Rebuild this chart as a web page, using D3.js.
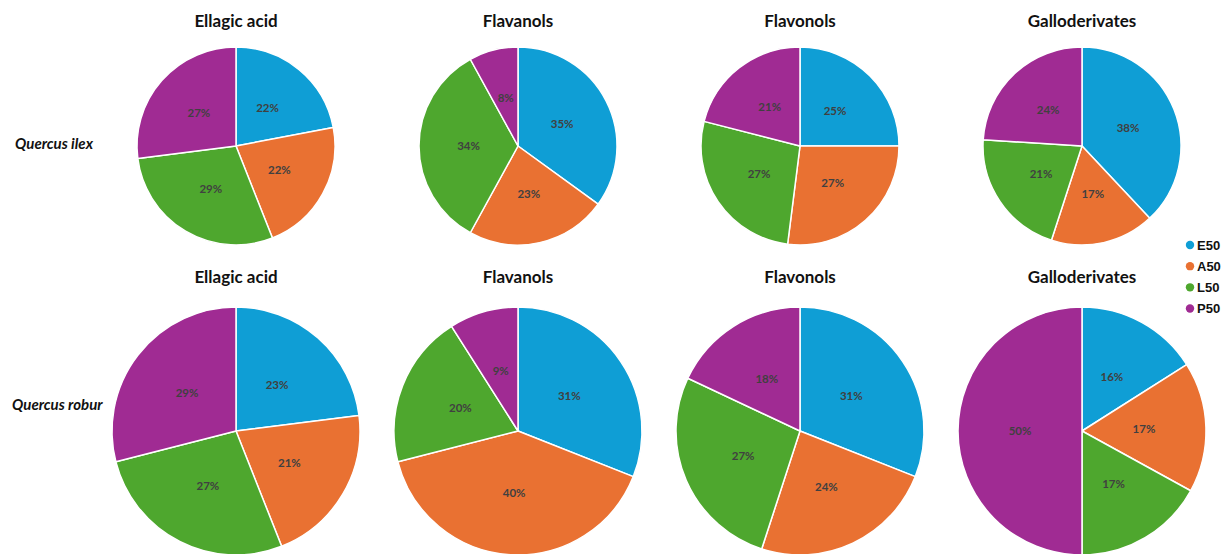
<!DOCTYPE html>
<html>
<head>
<meta charset="utf-8">
<script src="https://cdn.jsdelivr.net/npm/d3@7"></script>
<style>
  html, body { margin: 0; padding: 0; background: #ffffff; }
  svg { display: block; }
</style>
</head>
<body>
<svg id="chart" width="1225" height="554"></svg>
<script>
const categories = ["Ellagic acid", "Flavanols", "Flavonols", "Galloderivates"];
const seriesNames = ["E50", "A50", "L50", "P50"];
const species = ["Quercus ilex", "Quercus robur"];
const ilexValues = [
  [22, 22, 29, 27],
  [35, 23, 34, 8],
  [25, 27, 27, 21],
  [38, 17, 21, 24]
];
const roburValues = [
  [23, 21, 27, 29],
  [31, 40, 20, 9],
  [31, 24, 27, 18],
  [16, 17, 17, 50]
];
const seriesColors = ["#0F9ED5", "#E97132", "#4EA72E", "#A02B93"];

const svg = d3.select("#chart");

const color = d3.scaleOrdinal().domain(seriesNames).range(seriesColors);
const xCenter = d3.scalePoint().domain(categories).range([236, 1082]);
const rows = [
  { name: species[0], values: ilexValues, cy: 146, r: 99, titleY: 27, labelX: 15, labelY: 149 },
  { name: species[1], values: roburValues, cy: 431, r: 124, titleY: 283, labelX: 12, labelY: 410 }
];

const pie = d3.pie().sort(null).value(d => d.value);

rows.forEach(row => {
  svg.append("text")
    .attr("x", row.labelX)
    .attr("y", row.labelY)
    .attr("font-family", "Lato, 'Open Sans', sans-serif")
    .attr("font-style", "italic")
    .attr("font-weight", "bold")
    .attr("font-size", 15)
    .attr("fill", "#111")
    .text(row.name);

  categories.forEach((cat, ci) => {
    const cx = xCenter(cat);
    const data = seriesNames.map((s, si) => ({ series: s, value: row.values[ci][si] }));
    const total = d3.sum(data, d => d.value);
    const arcs = pie(data);
    const arc = d3.arc().innerRadius(0).outerRadius(row.r);
    const g = svg.append("g").attr("transform", `translate(${cx},${row.cy})`);

    g.selectAll("path").data(arcs).join("path")
      .attr("d", arc)
      .attr("fill", d => color(d.data.series))
      .attr("stroke", "#ffffff")
      .attr("stroke-width", 1.5)
      .attr("stroke-linejoin", "round");

    g.selectAll("text.lbl").data(arcs).join("text")
      .attr("class", "lbl")
      .attr("transform", d => `translate(${arc.centroid(d)})`)
      .attr("text-anchor", "middle")
      .attr("dy", "0.35em")
      .attr("font-family", "Lato, 'Open Sans', sans-serif")
      .attr("font-weight", "bold")
      .attr("font-size", 11.5)
      .attr("fill", "#404040")
      .text(d => Math.round(d.data.value / total * 100) + "%");

    svg.append("text")
      .attr("x", cx)
      .attr("y", row.titleY)
      .attr("text-anchor", "middle")
      .attr("font-family", "Lato, 'Open Sans', sans-serif")
      .attr("font-weight", "bold")
      .attr("font-size", 17)
      .attr("fill", "#111")
      .text(cat);
  });
});

// legend
const legendY = d3.scalePoint().domain(seriesNames).range([245, 308.5]);
const lg = svg.append("g");
seriesNames.forEach(s => {
  lg.append("circle")
    .attr("cx", 1190)
    .attr("cy", legendY(s))
    .attr("r", 4.2)
    .attr("fill", color(s));
  lg.append("text")
    .attr("x", 1197)
    .attr("y", legendY(s))
    .attr("dy", "0.35em")
    .attr("font-family", "'Liberation Sans', Arial, sans-serif")
    .attr("font-weight", "bold")
    .attr("font-size", 13)
    .attr("fill", "#111")
    .text(s);
});
</script>
</body>
</html>
